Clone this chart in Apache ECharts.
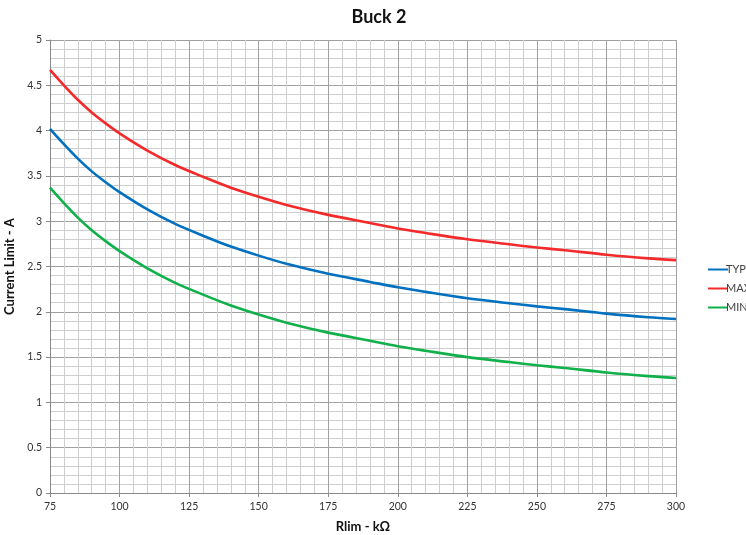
<!DOCTYPE html>
<html><head><meta charset="utf-8">
<script src="https://cdn.jsdelivr.net/npm/echarts@6/dist/echarts.min.js"></script>
<style>html,body{margin:0;padding:0;background:#fff}#c{width:746px;height:535px}</style>
</head><body><div id="c"></div>
<script>
const rlim = [75, 80, 85, 90, 95, 100, 110, 120, 130, 140, 150, 160, 175, 190, 200, 210, 225, 240, 250, 260, 275, 290, 300];
const typ = [4.02, 3.85, 3.69, 3.55, 3.43, 3.32, 3.13, 2.97, 2.84, 2.72, 2.62, 2.53, 2.42, 2.33, 2.27, 2.22, 2.15, 2.095, 2.06, 2.03, 1.98, 1.94, 1.92];
const maxv = [4.67, 4.50, 4.34, 4.20, 4.08, 3.97, 3.78, 3.62, 3.49, 3.37, 3.27, 3.18, 3.07, 2.98, 2.92, 2.87, 2.80, 2.745, 2.71, 2.68, 2.63, 2.59, 2.57];
const minv = [3.37, 3.20, 3.04, 2.90, 2.78, 2.67, 2.48, 2.32, 2.19, 2.07, 1.97, 1.88, 1.77, 1.68, 1.62, 1.57, 1.50, 1.445, 1.41, 1.38, 1.33, 1.29, 1.27];
const seriesNames = ['TYP', 'MAX', 'MIN'];
const colors = ['#0070C0', '#F42A2A', '#10B04A'];

const font = 'Lato, "Open Sans", sans-serif';
const chart = echarts.init(document.getElementById('c'), null, {renderer: 'canvas'});
const pair = arr => rlim.map((r, i) => [r, arr[i]]);
const mk = (i, arr) => ({name: seriesNames[i], type: 'line', data: pair(arr), smooth: 0.3,
  showSymbol: false, lineStyle: {width: 2.6, color: colors[i]}, itemStyle: {color: colors[i]}});
chart.setOption({
  animation: false,
  title: {text: 'Buck 2', left: 374, top: 3, textAlign: 'center',
    textStyle: {fontFamily: font, fontWeight: 'bold', fontSize: 18, color: '#111'}},
  grid: {left: 50, right: 70, top: 40, bottom: 42, outerBoundsMode: 'none', containLabel: false},
  legend: {orient: 'vertical', left: 703, top: 259, itemGap: 8, itemWidth: 20, itemHeight: 2,
    icon: 'rect', data: seriesNames,
    textStyle: {fontFamily: font, fontSize: 11, color: '#404040', padding: [0, 0, 0, -7]}},
  xAxis: {type: 'value', min: 75, max: 300, interval: 25,
    name: 'Rlim - kΩ', nameLocation: 'middle', nameGap: 27,
    nameTextStyle: {fontFamily: font, fontWeight: 'bold', fontSize: 13, color: '#111'},
    axisLine: {lineStyle: {color: '#8a8a8a'}},
    axisTick: {show: true, length: 4, lineStyle: {color: '#8a8a8a'}},
    axisLabel: {fontFamily: font, fontSize: 10.5, color: '#333', margin: 8},
    splitLine: {lineStyle: {color: '#a0a0a0', width: 1}},
    minorTick: {show: false, splitNumber: 5},
    minorSplitLine: {show: true, lineStyle: {color: '#cfcfcf', width: 1}}},
  yAxis: {type: 'value', min: 0, max: 5, interval: 0.5,
    name: 'Current Limit - A', nameLocation: 'middle', nameGap: 27,
    nameTextStyle: {fontFamily: font, fontWeight: 'bold', fontSize: 13, color: '#111'},
    axisLine: {show: true, lineStyle: {color: '#8a8a8a'}},
    axisTick: {show: true, length: 4, lineStyle: {color: '#8a8a8a'}},
    axisLabel: {fontFamily: font, fontSize: 10.5, color: '#333', margin: 8},
    splitLine: {lineStyle: {color: '#a0a0a0', width: 1}},
    minorTick: {show: false, splitNumber: 5},
    minorSplitLine: {show: true, lineStyle: {color: '#cfcfcf', width: 1}}},
  series: [mk(0, typ), mk(1, maxv), mk(2, minv)]
});
</script></body></html>
